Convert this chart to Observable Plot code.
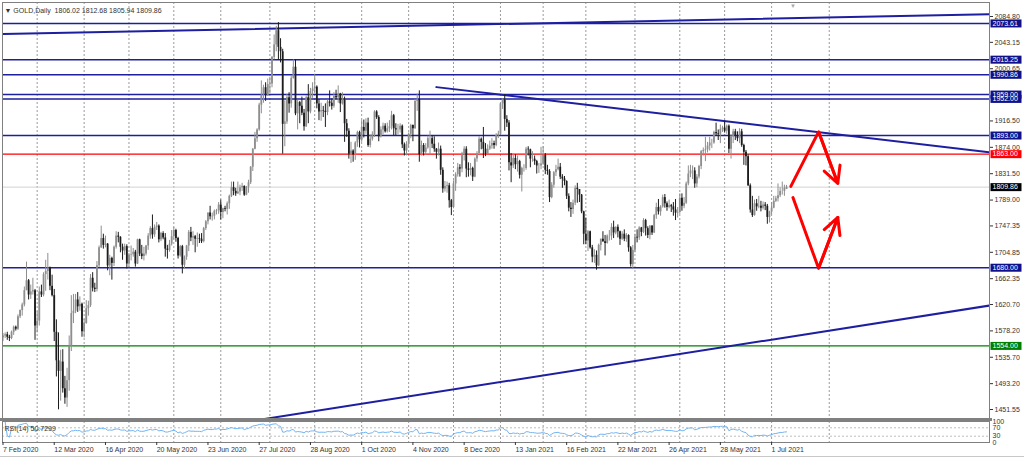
<!DOCTYPE html>
<html><head><meta charset="utf-8">
<script src="https://cdn.jsdelivr.net/npm/d3@7"></script>
<script src="https://cdn.jsdelivr.net/npm/@observablehq/plot@0.6"></script>
<style>
body{margin:0;background:#fff;}
#wrap{position:relative;width:1024px;height:458px;overflow:hidden;background:#fff;font-family:"Liberation Sans",Arial,sans-serif;}
#wrap svg{position:absolute;left:0;}
.sep{position:absolute;left:0;width:992px;}
</style></head><body><div id="wrap"></div>
<script>
// ---------- data (GOLD daily, 7 Feb 2020 - 12 Jul 2021) ----------
const opens=[
1567,1570,1572,1568,1566,1576,1584,1581,1601,1611,1620,1643,1659,1636,1641,1643,
1586,1594,1641,1636,1669,1674,1679,1650,1635,1576,1530,1513,1528,1485,1470,1498,1553,1606,1610,1628,1617,1621,
1577,1590,1614,1619,1663,1647,1645,1683,1712,1727,1716,1718,1683,1695,1687,1713,1731,1729,1713,1707,1714,
1686,1700,1701,1705,1686,1725,1702,1698,1702,1715,1731,1743,1733,1745,1747,1725,1735,1728,1710,1708,1718,
1730,1740,1727,1699,1714,1684,1697,1715,1737,1728,1730,1726,1727,1726,1722,1743,1754,1768,1762,1763,1771,1772,
1781,1769,1775,1774,1783,1795,1809,1803,1799,1802,1809,1811,1797,1810,1817,1842,1871,1888,1902,1942,1958,1970,1957,
1975,1976,2019,2039,2062,2035,2028,1911,1915,1954,1944,1985,2003,1928,1946,1940,1929,1907,1954,1931,1964,
1968,1971,1944,1931,1933,1932,1930,1947,1945,1940,1956,1954,1960,1944,1950,1912,1900,1863,1868,1862,1881,1898,
1886,1906,1900,1913,1877,1887,1894,1931,1922,1891,1902,1908,1899,1904,1907,1925,1904,1902,1902,1908,1878,1868,
1879,1895,1909,1904,1948,1951,1862,1877,1866,1873,1888,1888,1879,1871,1866,1871,1837,1807,1811,1812,1788,
1777,1815,1830,1841,1839,1863,1871,1839,1837,1840,1826,1855,1864,1887,1882,1871,1863,1871,1876,1880,1877,1893,
1895,1944,1950,1919,1913,1849,1844,1856,1846,1851,1829,1840,1840,1871,1870,1855,1855,1851,1844,1844,
1847,1861,1837,1835,1793,1813,1833,1838,1842,1826,1823,1819,1795,1776,1774,1784,1808,1806,1797,1770,
1734,1723,1738,1712,1697,1700,1683,1716,1726,1722,1719,1731,1731,1745,1736,1745,1738,1726,1734,1726,1732,1712,1685,
1708,1729,1728,1744,1737,1756,1743,1732,1747,1736,1764,1777,1770,1778,1793,1783,1777,1780,1778,1773,1768,
1769,1792,1779,1784,1815,1831,1836,1836,1815,1826,1843,1867,1869,1870,1876,1881,1881,1898,1896,1895,1903,
1905,1900,1908,1871,1891,1899,1893,1888,1899,1877,1866,1859,1812,1773,1764,1783,1778,1779,1776,1781,1779,1761,
1770,1776,1787,1791,1796,1803,1803,1806.02];
const highs=[
1574,1575,1576,1571,1578,1586,1586,1604,1612,1623,1649,1689,1661,1652,1663,1645,
1609,1649,1652,1672,1692,1703,1681,1668,1645,1596,1575,1547,1548,1505,1518,1570,1635,1637,1637,1640,1633,1623,
1597,1627,1626,1669,1672,1655,1690,1715,1747,1734,1731,1719,1700,1697,1715,1738,1737,1730,1718,1718,1717,
1703,1715,1711,1708,1726,1726,1716,1713,1716,1735,1746,1765,1749,1753,1749,1737,1738,1735,1716,1724,1740,
1745,1742,1729,1716,1716,1699,1716,1740,1745,1738,1732,1736,1734,1735,1745,1756,1768,1779,1768,1773,1774,1785,
1789,1776,1779,1786,1797,1818,1818,1808,1818,1813,1816,1812,1811,1821,1843,1872,1898,1904,1945,1981,1974,1978,1984,
1987,2020,2055,2069,2075,2049,2032,1949,1959,1962,1989,2015,2015,1950,1948,1955,1935,1957,1975,1969,1978,
1992,1973,1951,1945,1940,1944,1950,1965,1952,1962,1966,1973,1961,1962,1955,1919,1904,1882,1870,1883,1900,1900,
1917,1918,1920,1921,1894,1899,1933,1933,1925,1907,1913,1912,1913,1917,1932,1927,1912,1911,1912,1910,1881,1883,
1897,1911,1910,1951,1960,1965,1884,1880,1880,1892,1900,1893,1891,1872,1881,1876,1841,1819,1818,1816,1790,
1820,1833,1848,1846,1866,1875,1875,1849,1848,1842,1857,1867,1891,1889,1906,1880,1878,1884,1888,1884,1896,1900,
1945,1952,1959,1925,1917,1864,1863,1862,1860,1853,1842,1846,1874,1875,1871,1867,1860,1853,1848,1874,
1875,1864,1845,1838,1817,1835,1845,1855,1848,1830,1827,1820,1799,1785,1789,1812,1816,1806,1798,1771,
1760,1740,1739,1716,1709,1707,1718,1726,1738,1732,1733,1740,1751,1755,1746,1749,1739,1738,1741,1735,1733,1714,1716,
1734,1741,1746,1745,1759,1758,1746,1748,1748,1766,1784,1790,1780,1797,1798,1786,1789,1782,1785,1790,1777,
1799,1799,1793,1818,1844,1845,1844,1841,1830,1845,1869,1873,1890,1882,1890,1887,1900,1913,1902,1910,1908,
1916,1910,1910,1894,1903,1903,1899,1904,1903,1879,1869,1862,1815,1795,1789,1790,1795,1787,1786,1785,1782,1771,
1785,1795,1795,1815,1809,1818,1813,1812.68];
const lows=[
1561,1566,1563,1561,1564,1571,1578,1579,1598,1602,1617,1643,1628,1629,1636,1563,
1575,1586,1632,1633,1642,1660,1643,1633,1561,1504,1451,1465,1478,1460,1455,1481,1545,1590,1606,1608,1610,1568,
1567,1589,1602,1616,1641,1640,1641,1680,1711,1710,1712,1675,1667,1660,1682,1710,1720,1704,1692,1700,1678,
1680,1691,1697,1681,1685,1698,1693,1691,1699,1708,1726,1726,1729,1740,1720,1722,1725,1697,1694,1705,1715,
1725,1721,1694,1697,1670,1678,1692,1706,1722,1716,1704,1713,1719,1719,1720,1740,1749,1757,1755,1757,1765,1766,
1757,1759,1770,1765,1774,1793,1796,1795,1798,1796,1803,1795,1796,1800,1814,1835,1870,1882,1900,1928,1945,1948,1956,
1960,1970,2015,2028,2015,2010,1863,1875,1911,1929,1937,1984,1925,1902,1912,1925,1900,1906,1912,1928,1953,
1960,1936,1917,1916,1922,1906,1925,1939,1934,1937,1951,1945,1930,1942,1882,1890,1855,1848,1850,1853,1874,1873,
1882,1889,1895,1874,1873,1884,1890,1919,1883,1889,1894,1897,1897,1898,1902,1893,1893,1894,1897,1872,1860,1860,
1873,1888,1883,1903,1932,1850,1860,1860,1861,1871,1862,1872,1866,1855,1860,1829,1800,1802,1800,1776,1764,
1775,1803,1826,1826,1833,1852,1825,1826,1828,1819,1825,1850,1864,1870,1856,1859,1862,1869,1871,1871,1875,1888,
1895,1935,1900,1906,1836,1817,1840,1838,1834,1823,1802,1834,1837,1860,1841,1850,1845,1831,1832,1838,
1845,1830,1829,1785,1791,1808,1827,1836,1822,1808,1812,1790,1770,1761,1766,1780,1784,1785,1767,1717,
1717,1706,1710,1688,1687,1676,1682,1707,1721,1699,1718,1723,1724,1727,1733,1728,1716,1724,1722,1721,1705,1681,1677,
1704,1720,1724,1730,1735,1731,1727,1725,1732,1735,1758,1765,1763,1776,1776,1771,1775,1769,1763,1756,1760,
1766,1771,1775,1782,1812,1825,1822,1808,1809,1823,1838,1860,1851,1865,1868,1872,1879,1892,1885,1880,1898,
1897,1895,1864,1855,1880,1885,1883,1880,1874,1845,1844,1811,1768,1761,1763,1771,1775,1770,1773,1772,1750,1752,
1765,1775,1785,1786,1793,1797,1795,1805.94];
const closes=[
1570,1572,1568,1566,1576,1584,1581,1601,1611,1620,1643,1659,1636,1641,1643,1586,
1594,1641,1636,1669,1674,1679,1650,1635,1576,1530,1513,1528,1485,1470,1498,1553,1606,1610,1628,1617,1621,1577,
1590,1614,1619,1663,1647,1645,1683,1712,1727,1716,1718,1683,1695,1687,1713,1731,1729,1713,1707,1714,1686,
1700,1701,1705,1686,1725,1702,1698,1702,1715,1731,1743,1733,1745,1747,1725,1735,1728,1710,1708,1718,1730,
1740,1727,1699,1714,1684,1697,1715,1737,1728,1730,1726,1727,1726,1722,1743,1754,1768,1762,1763,1771,1772,1781,
1769,1775,1774,1783,1795,1809,1803,1799,1802,1809,1811,1797,1810,1817,1842,1871,1888,1902,1942,1958,1970,1957,1975,
1976,2019,2039,2062,2035,2028,1911,1915,1954,1944,1985,2003,1928,1946,1940,1929,1907,1954,1931,1964,1968,
1971,1944,1931,1933,1932,1930,1947,1945,1940,1956,1954,1960,1944,1950,1912,1900,1863,1868,1862,1881,1898,1886,
1906,1900,1913,1877,1887,1894,1931,1922,1891,1902,1908,1899,1904,1907,1925,1904,1902,1902,1908,1878,1868,1879,
1895,1909,1904,1948,1951,1862,1877,1866,1873,1888,1888,1879,1871,1866,1871,1837,1807,1811,1812,1788,1777,
1815,1830,1841,1839,1863,1871,1839,1837,1840,1826,1855,1864,1887,1882,1871,1863,1871,1876,1880,1877,1893,1895,
1944,1950,1919,1913,1849,1844,1856,1846,1851,1829,1840,1840,1871,1870,1855,1855,1851,1844,1844,1847,
1861,1837,1835,1793,1813,1833,1838,1842,1826,1823,1819,1795,1776,1774,1784,1808,1806,1797,1770,1734,
1723,1738,1712,1697,1700,1683,1716,1726,1722,1719,1731,1731,1745,1736,1745,1738,1726,1734,1726,1732,1712,1685,1708,
1729,1728,1744,1737,1756,1743,1732,1747,1736,1764,1777,1770,1778,1793,1783,1777,1780,1778,1773,1768,1769,
1792,1779,1784,1815,1831,1836,1836,1815,1826,1843,1867,1869,1870,1876,1881,1881,1898,1896,1895,1903,1905,
1900,1908,1871,1891,1899,1893,1888,1899,1877,1866,1859,1812,1773,1764,1783,1778,1779,1776,1781,1779,1761,1770,
1776,1787,1791,1796,1803,1803,1808,1809.86];

const firstDay="2020-02-07", lastDay="2021-07-12";
const holidays=["2020-04-10","2020-12-25","2021-01-01","2021-04-02"];
const dateTickLabels=["7 Feb 2020","12 Mar 2020","16 Apr 2020","20 May 2020","23 Jun 2020","27 Jul 2020","28 Aug 2020","1 Oct 2020","4 Nov 2020","8 Dec 2020","13 Jan 2021","16 Feb 2021","22 Mar 2021","26 Apr 2021","28 May 2021","1 Jul 2021"];
const futureGridBars=[387];
const priceTicks=[2084.80,2043.15,2000.65,1916.50,1874.00,1831.50,1789.00,1747.35,1704.85,1662.35,1620.70,1578.20,1535.70,1493.20,1451.55];
const blueLevels=[2073.61,2015.25,1990.86,1952.00,1959.00,1893.00,1680.00];
const redLevels=[1863.00];
const greenLevels=[1554.00];
const lastPrice=[1809.86];
const trendTop=[{i:0,p:2056.5},{i:462,p:2088.5}];
const trendDown=[{i:203,p:1971},{i:462,p:1866}];
const trendUp=[{i:122,p:1436},{i:462,p:1619}];
const arrowUp=[{i:369,p:1811},{i:382,p:1899},{i:391,p:1816}];
const arrowDown=[{i:370,p:1793},{i:382,p:1679},{i:391,p:1761}];
const rsiTicks=[0,30,70,100];
const rsiLevels=[30,70];
const header="▼ GOLD,Daily  1806.02 1812.68 1805.94 1809.86";
const rsiHeader="RSI(14) 50.7299";

// ---------- derived ----------
const hol=new Set(holidays);
const dates=[];
for(let d=new Date(firstDay+"T00:00:00Z");d<=new Date(lastDay+"T00:00:00Z");d=new Date(+d+864e5)){
  const wd=d.getUTCDay(); const s=d.toISOString().slice(0,10);
  if(wd!==0&&wd!==6&&!hol.has(s)) dates.push(d);
}
const fmt=d3.utcFormat("%-d %b %Y");
const tickIdx=dateTickLabels.map(l=>dates.findIndex(d=>fmt(d)===l));
const monthStarts=dates.map((d,i)=>i).filter(i=>i>0&&dates[i].getUTCMonth()!==dates[i-1].getUTCMonth());
const gridBars=monthStarts.concat(futureGridBars);
const bars=closes.map((c,i)=>({i,o:opens[i],h:highs[i],l:lows[i],c,up:c>=opens[i]}));
// RSI(14), Wilder smoothing
const rsi=[];{let ag=0,al=0;for(let i=1;i<closes.length;i++){const ch=closes[i]-closes[i-1],g=Math.max(ch,0),l=Math.max(-ch,0);
 if(i<=14){ag=(ag*(i-1)+g)/i;al=(al*(i-1)+l)/i;}else{ag=(ag*13+g)/14;al=(al*13+l)/14;}
 rsi.push({i,v:al===0?100:100-100/(1+ag/al)});}}

const navy="#1e1ea0", boxNavy="#10108a", bull="#8e8e8e", bear="#1c1c1c";
const xs={type:"linear",domain:[0,367],range:[2.5,2.5+2.135*367],label:null};
const font='"Liberation Sans", Arial, sans-serif';
const boxSymbol={draw(ctx){ctx.moveTo(0,-4);ctx.lineTo(31,-4);ctx.lineTo(31,4);ctx.lineTo(0,4);ctx.closePath();}};
const boxes=[...blueLevels.map(p=>({p,col:boxNavy})),...redLevels.map(p=>({p,col:"#ff0000"})),...greenLevels.map(p=>({p,col:"#008000"})),...lastPrice.map(p=>({p,col:"#000000"}))];
const seg=a=>[{x1:a[a.length-2].i,y1:a[a.length-2].p,x2:a[a.length-1].i,y2:a[a.length-1].p}];

const main=Plot.plot({
  width:1024,height:419,marginLeft:2,marginRight:35,marginTop:2,marginBottom:1,
  x:{...xs,axis:null},
  y:{domain:[1451.55,2084.80],range:[409,16],axis:"right",ticks:priceTicks,tickFormat:d=>d.toFixed(2),tickSize:3,tickPadding:2,label:null},
  style:{fontFamily:font,fontSize:"7px",color:"#333",background:"transparent",overflow:"visible"},
  marks:[
    Plot.ruleX(gridBars,{x:d=>d,stroke:"#9a9a9a",strokeDasharray:"2,2",strokeWidth:1}),
    Plot.ruleY(lastPrice,{y:d=>d,stroke:"#d2d2d2",strokeWidth:1}),
    Plot.ruleY(blueLevels,{y:d=>d,stroke:navy,strokeWidth:1.5}),
    Plot.ruleY(redLevels,{y:d=>d,stroke:"#ff0000",strokeWidth:1.3}),
    Plot.ruleY(greenLevels,{y:d=>d,stroke:"#008000",strokeWidth:1.2}),
    Plot.line(trendTop,{x:"i",y:"p",stroke:navy,strokeWidth:2,clip:true}),
    Plot.line(trendDown,{x:"i",y:"p",stroke:navy,strokeWidth:2,clip:true}),
    Plot.line(trendUp,{x:"i",y:"p",stroke:navy,strokeWidth:2,clip:true}),
    Plot.ruleX(bars,{x:"i",y1:"l",y2:"h",stroke:d=>d.up?bull:bear,strokeWidth:1}),
    Plot.ruleX(bars,{x:"i",y1:"o",y2:"c",stroke:d=>d.up?bull:bear,strokeWidth:1.8}),
    Plot.line(arrowUp,{x:"i",y:"p",stroke:"#ff0000",strokeWidth:3,strokeLinejoin:"miter"}),
    Plot.line(arrowDown,{x:"i",y:"p",stroke:"#ff0000",strokeWidth:3,strokeLinejoin:"miter"}),
    Plot.arrow(seg(arrowUp),{x1:"x1",y1:"y1",x2:"x2",y2:"y2",stroke:"#ff0000",strokeWidth:3,headLength:11,headAngle:55}),
    Plot.arrow(seg(arrowDown),{x1:"x1",y1:"y1",x2:"x2",y2:"y2",stroke:"#ff0000",strokeWidth:3,headLength:11,headAngle:55}),
    Plot.frame({stroke:"#808080"}),
    Plot.dot(boxes,{y:"p",frameAnchor:"right",symbol:boxSymbol,fill:"col",stroke:null,dx:1}),
    Plot.text(boxes,{y:"p",frameAnchor:"right",text:d=>d.p.toFixed(2),dx:3,textAnchor:"start",fill:"white",fontSize:7}),
    Plot.text([header],{frameAnchor:"top-left",dx:2,dy:6,textAnchor:"start",fill:"#333",fontSize:7}),
    Plot.text(["▼"],{frameAnchor:"top",dx:297,dy:1,fill:"#a8a8a8",fontSize:6})
  ]
});
main.style.top="0px";

const sub=Plot.plot({
  width:1024,height:39,marginLeft:2,marginRight:35,marginTop:2,marginBottom:16,
  x:{...xs},
  y:{domain:[0,100],axis:null,label:null},
  style:{fontFamily:font,fontSize:"7px",color:"#333",background:"transparent",overflow:"visible"},
  marks:[
    Plot.ruleX(gridBars,{x:d=>d,stroke:"#9a9a9a",strokeDasharray:"2,2",strokeWidth:1}),
    Plot.ruleY(rsiLevels,{y:d=>d,stroke:"#bdbdbd",strokeDasharray:"2,2"}),
    Plot.line(rsi,{x:"i",y:"v",stroke:"#72b4f2",strokeWidth:1}),
    Plot.frame({stroke:"#808080"}),
    Plot.axisY(rsiTicks,{anchor:"right",tickSize:0,tickPadding:3,fontSize:7,label:null}),
    Plot.axisX(tickIdx,{anchor:"bottom",tickSize:3,tickPadding:2,textAnchor:"start",tickFormat:i=>fmt(dates[i]),fontSize:7,label:null}),
    Plot.text([rsiHeader],{frameAnchor:"top-left",dx:2,dy:5,textAnchor:"start",fill:"#333",fontSize:7})
  ]
});
sub.style.top="419px";

const wrap=document.getElementById("wrap");
wrap.appendChild(main);
wrap.appendChild(sub);
const s1=document.createElement("div");s1.className="sep";s1.style.cssText="top:418px;height:3px;background:#808080;";
wrap.appendChild(s1);
const s2=document.createElement("div");s2.className="sep";s2.style.cssText="top:456px;height:1px;width:1024px;background:#c8c8c8;";
wrap.appendChild(s2);
</script></body></html>
